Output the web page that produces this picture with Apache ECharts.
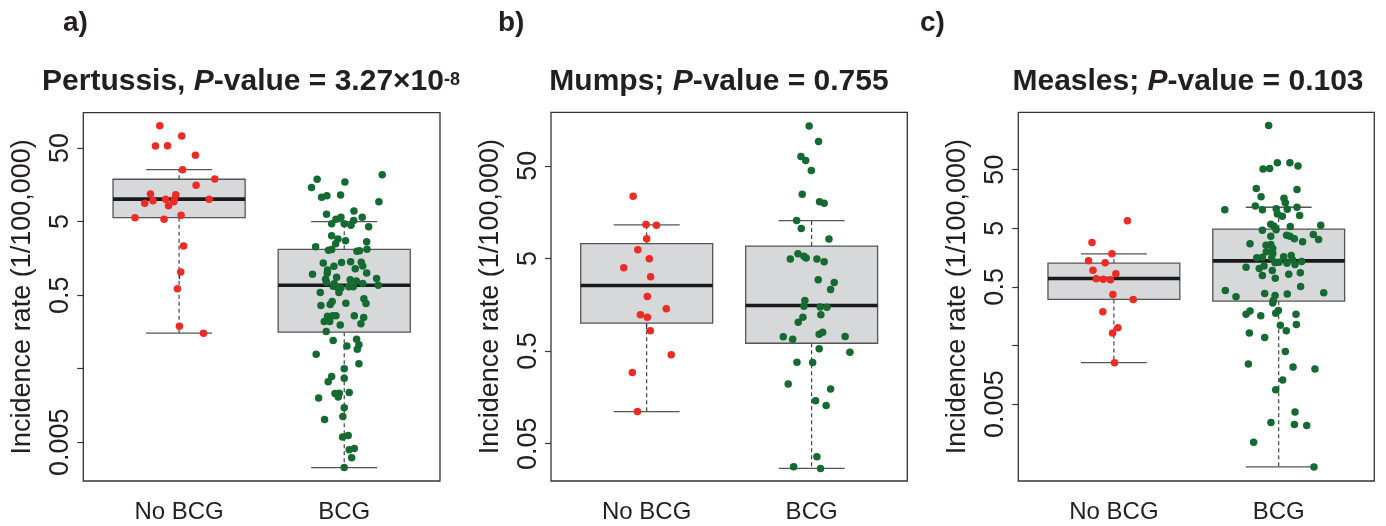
<!DOCTYPE html>
<html><head><meta charset="utf-8">
<script src="https://cdn.jsdelivr.net/npm/echarts@6/dist/echarts.min.js"></script>
<style>html,body{margin:0;padding:0;background:#fff}#c{width:1386px;height:526px}</style>
</head><body><div id="c"></div>
<script>
// ---------- data ----------
const categories = ['No BCG', 'BCG'];
const yTicks = [50, 5, 0.5, 0.05, 0.005];
const yLabelsA = [50, 5, 0.5, 0.005];
const yLabelsB = [50, 5, 0.5, 0.05];
const yLabelsC = [50, 5, 0.5, 0.005];

// box stats: [lower whisker, Q1, median, Q3, upper whisker]
const pertussisBoxNoBCG = [0.152, 5.65, 10.1, 18.8, 25.4];
const pertussisBoxBCG = [0.00226, 0.157, 0.682, 2.10, 4.99];
const mumpsBoxNoBCG = [0.111, 1.00, 2.55, 7.22, 11.5];
const mumpsBoxBCG = [0.0270, 0.607, 1.55, 6.79, 12.8];
const measlesBoxNoBCG = [0.0255, 0.305, 0.695, 1.27, 1.83];
const measlesBoxBCG = [0.000424, 0.285, 1.39, 4.84, 11.4];

// individual incidence rates (1/100,000) and horizontal jitter
const pertussisNoBCG = [100, 72.8, 53.2, 53.7, 39.8, 25.4, 19.0, 15.6, 11.9, 11.6, 8.87, 9.6, 10.1, 10.1, 9.3, 8.2, 10.1, 5.65, 5.4, 6.1, 2.33, 1.03, 0.61, 0.189, 0.152];
const pertussisNoBCGJitter = [-0.117, 0.016, -0.143, -0.070, 0.099, 0.021, 0.216, 0.103, -0.173, -0.020, -0.208, -0.158, -0.081, -0.028, -0.032, -0.064, 0.182, -0.267, -0.091, 0.012, 0.027, 0.010, -0.010, 0.002, 0.148];
const pertussisBCG = [21.6, 18.8, 14.5, 17.3, 10.7, 11.2, 11.5, 9.27, 6.98, 6.31, 5.74, 5.40, 5.74, 5.16, 4.66, 4.66, 4.47, 4.24, 3.20, 2.91, 2.74, 2.67, 2.49, 2.27, 2.04, 2.08, 1.98, 2.00, 2.11, 1.37, 1.39, 1.42, 1.40, 1.24, 1.25, 1.14, 1.10, 0.964, 0.995, 1.00, 0.879, 0.824, 0.841, 0.807, 0.782, 0.751, 0.713, 0.719, 0.684, 0.662, 0.628, 0.649, 0.649, 0.649, 0.542, 0.542, 0.446, 0.384, 0.409, 0.389, 0.361, 0.372, 0.259, 0.262, 0.262, 0.262, 0.248, 0.219, 0.219, 0.196, 0.204, 0.160, 0.121, 0.126, 0.106, 0.102, 0.0923, 0.0789, 0.0583, 0.0499, 0.0392, 0.0372, 0.0332, 0.0230, 0.0233, 0.0238, 0.0206, 0.0200, 0.0147, 0.0112, 0.0102, 0.00589, 0.00618, 0.00395, 0.00412, 0.00308, 0.00227];
const pertussisBCGJitter = [0.230, -0.164, -0.198, 0.004, -0.137, -0.105, -0.022, 0.210, 0.059, -0.107, 0.109, -0.050, -0.020, 0.057, -0.076, 0.0, 0.041, 0.148, -0.076, -0.038, 0.008, 0.136, -0.052, -0.173, -0.095, -0.076, 0.077, 0.093, 0.138, -0.127, -0.016, 0.039, 0.103, -0.062, 0.112, 0.067, -0.101, -0.192, -0.103, 0.136, -0.046, -0.113, 0.196, 0.036, 0.073, -0.107, -0.061, 0.112, 0.206, -0.067, -0.020, 0.028, 0.055, -0.050, -0.145, -0.032, 0.119, 0.132, -0.073, 0.010, -0.141, -0.085, -0.101, -0.070, -0.050, 0.061, 0.118, -0.121, -0.088, -0.024, 0.101, -0.109, -0.067, 0.075, 0.089, 0.016, 0.079, -0.170, 0.089, 0.0, -0.076, 0.0, -0.097, -0.056, -0.030, 0.030, -0.036, -0.155, 0.0, -0.008, -0.119, -0.010, 0.024, 0.030, 0.061, 0.045, 0.0];

const mumpsNoBCG = [23.4, 11.6, 11.4, 8.17, 6.21, 4.97, 3.96, 3.17, 1.94, 1.43, 1.23, 1.16, 0.826, 0.455, 0.293, 0.111];
const mumpsNoBCGJitter = [-0.082, -0.004, 0.059, 0.0, -0.054, 0.016, -0.139, 0.024, 0.004, 0.119, -0.038, 0.004, 0.022, 0.149, -0.087, -0.056];
const mumpsBCG = [134.6, 91.4, 62.8, 56.9, 44.4, 24.6, 20.5, 19.7, 12.8, 10.5, 8.09, 4.91, 5.62, 5.26, 5.04, 4.91, 4.60, 2.94, 2.75, 2.31, 1.76, 1.52, 1.49, 1.48, 1.23, 1.16, 1.02, 0.760, 0.798, 0.711, 0.671, 0.718, 0.528, 0.485, 0.378, 0.376, 0.221, 0.195, 0.145, 0.129, 0.0361, 0.0282, 0.0270];
const mumpsBCGJitter = [-0.015, 0.042, -0.065, -0.036, -0.002, -0.057, 0.048, 0.076, -0.091, -0.063, 0.105, -0.129, -0.083, -0.047, -0.033, 0.032, 0.076, 0.040, 0.137, 0.115, -0.041, -0.047, 0.052, 0.093, 0.056, -0.053, -0.081, 0.046, 0.067, -0.172, -0.115, 0.203, 0.046, 0.232, -0.089, 0.006, -0.142, 0.115, 0.024, 0.088, 0.032, -0.109, 0.054];

const measlesNoBCG = [6.68, 2.85, 1.83, 1.39, 1.29, 0.963, 0.836, 0.687, 0.676, 0.660, 0.372, 0.305, 0.188, 0.100, 0.0813, 0.0255];
const measlesNoBCGJitter = [0.082, -0.133, -0.012, -0.154, -0.053, -0.127, 0.012, -0.107, -0.065, -0.021, -0.006, 0.117, -0.067, 0.024, -0.008, 0.004];
const measlesBCG = [284, 51.4, 52.0, 65.8, 65.8, 57.8, 23.7, 22.8, 17.3, 16.2, 13.6, 12.0, 10.3, 10.3, 10.7, 10.5, 11.4, 8.22, 8.79, 7.99, 5.85, 5.41, 4.62, 4.69, 5.34, 5.62, 3.66, 3.80, 3.66, 3.30, 3.91, 3.21, 2.93, 2.71, 2.57, 2.64, 2.25, 1.98, 1.85, 1.57, 1.60, 1.57, 1.63, 1.71, 1.43, 1.29, 1.32, 1.27, 1.20, 1.36, 1.08, 1.03, 1.14, 0.951, 0.782, 0.822, 0.869, 0.703, 0.508, 0.434, 0.339, 0.386, 0.357, 0.376, 0.397, 0.293, 0.264, 0.170, 0.193, 0.161, 0.178, 0.198, 0.170, 0.111, 0.114, 0.0893, 0.0813, 0.0687, 0.0396, 0.0241, 0.0214, 0.0198, 0.0129, 0.00883, 0.00366, 0.00242, 0.00224, 0.00215, 0.00112, 0.000424];
const measlesBCGJitter = [-0.061, -0.095, -0.055, -0.008, 0.068, 0.117, -0.136, 0.111, -0.107, 0.032, 0.040, -0.142, -0.327, -0.099, -0.015, 0.052, 0.111, 0.127, -0.008, 0.022, -0.048, -0.028, -0.099, -0.016, 0.070, 0.255, -0.048, 0.048, 0.068, 0.095, 0.210, 0.242, 0.145, -0.174, -0.077, -0.048, -0.036, -0.075, -0.036, -0.133, -0.099, -0.042, 0.030, 0.076, 0.085, -0.022, 0.002, 0.050, 0.099, 0.139, -0.198, -0.118, -0.089, -0.039, -0.099, 0.061, 0.131, -0.021, 0.133, -0.324, -0.259, -0.085, -0.022, 0.052, 0.273, -0.033, -0.036, -0.198, -0.174, -0.109, -0.018, -0.002, 0.105, 0.010, 0.107, 0.046, -0.178, -0.085, 0.040, -0.184, 0.087, 0.220, 0.024, -0.018, 0.099, -0.047, 0.095, 0.170, -0.152, 0.214];

// ---------- layout / style ----------
const FONT = '"Liberation Sans", Arial, Helvetica, sans-serif';
const TXT = '#231f20';
const RED = '#ee2a24';
const GREEN = '#146a30';

// title pieces: [text, italic?]
const panels = [
  { letter: 'a)', letterX: 63, titleX: 251,
    title: [['Pertussis, ', false], ['P', true], ['-value = 3.27×10', false]], sup: '-8',
    grid: { left: 83.3, top: 112.7, width: 356.7, height: 368.3 },
    yRange: [0.00149, 151], yLabels: yLabelsA,
    boxes: [pertussisBoxNoBCG, pertussisBoxBCG],
    pts: [[pertussisNoBCG, pertussisNoBCGJitter], [pertussisBCG, pertussisBCGJitter]] },
  { letter: 'b)', letterX: 498, titleX: 719,
    title: [['Mumps; ', false], ['P', true], ['-value = 0.755', false]], sup: '',
    grid: { left: 551, top: 112.3, width: 356.3, height: 368.7 },
    yRange: [0.01977, 188.8], yLabels: yLabelsB,
    boxes: [mumpsBoxNoBCG, mumpsBoxBCG],
    pts: [[mumpsNoBCG, mumpsNoBCGJitter], [mumpsBCG, mumpsBCGJitter]] },
  { letter: 'c)', letterX: 920, titleX: 1188,
    title: [['Measles; ', false], ['P', true], ['-value = 0.103', false]], sup: '',
    grid: { left: 1018.3, top: 112.3, width: 356, height: 368.7 },
    yRange: [0.000244, 475], yLabels: yLabelsC,
    boxes: [measlesBoxNoBCG, measlesBoxBCG],
    pts: [[measlesNoBCG, measlesNoBCGJitter], [measlesBCG, measlesBCGJitter]] }
];

const lg = Math.log10;
function fmtTick(v) { return String(Number(Math.pow(10, v).toPrecision(1))); }

const mctx = document.createElement('canvas').getContext('2d');
function textW(str, font) { mctx.font = font; return mctx.measureText(str).width; }
const TFONT = 'bold 30px ' + FONT;
const TIFONT = 'italic bold 30px ' + FONT;
const SFONT = 'bold 18px ' + FONT;

function renderBox(params, api) {
  const x = api.value(0);
  const lo = api.coord([x, api.value(1)]);
  const q1 = api.coord([x, api.value(2)]);
  const md = api.coord([x, api.value(3)]);
  const q3 = api.coord([x, api.value(4)]);
  const hi = api.coord([x, api.value(5)]);
  const bw = api.size([0.8, 0])[0];
  const cw = api.size([0.4, 0])[0];
  const cx = lo[0];
  const dash = { stroke: '#333', lineWidth: 1.1, lineDash: [4, 3] };
  const cap = { stroke: '#555', lineWidth: 1.3 };
  return { type: 'group', children: [
    { type: 'line', shape: { x1: cx, y1: q3[1], x2: cx, y2: hi[1] }, style: dash },
    { type: 'line', shape: { x1: cx, y1: q1[1], x2: cx, y2: lo[1] }, style: dash },
    { type: 'line', shape: { x1: cx - cw / 2, y1: hi[1], x2: cx + cw / 2, y2: hi[1] }, style: cap },
    { type: 'line', shape: { x1: cx - cw / 2, y1: lo[1], x2: cx + cw / 2, y2: lo[1] }, style: cap },
    { type: 'rect', shape: { x: cx - bw / 2, y: q3[1], width: bw, height: q1[1] - q3[1] },
      style: { fill: '#d7d8da', stroke: '#555', lineWidth: 1.3 } },
    { type: 'line', shape: { x1: cx - bw / 2, y1: md[1], x2: cx + bw / 2, y2: md[1] },
      style: { stroke: '#1a1a1a', lineWidth: 3.6 } }
  ] };
}

const option = { animation: false, backgroundColor: '#fff',
  grid: [], xAxis: [], yAxis: [], series: [], graphic: [] };

panels.forEach((p, i) => {
  option.grid.push(Object.assign({ show: true, borderColor: '#333', borderWidth: 1.3,
    backgroundColor: 'transparent' }, p.grid));
  option.xAxis.push({ type: 'value', gridIndex: i, min: 0.42, max: 2.58,
    axisLine: { show: false }, splitLine: { show: false },
    axisTick: { show: true, length: 6, customValues: [1, 2], lineStyle: { color: '#333', width: 1.2 } },
    axisLabel: { customValues: [1, 2], formatter: v => categories[Math.round(v) - 1],
      fontSize: 24, fontFamily: FONT, color: TXT, margin: 19 } });
  option.yAxis.push({ type: 'value', gridIndex: i, min: lg(p.yRange[0]), max: lg(p.yRange[1]),
    axisLine: { show: false }, splitLine: { show: false },
    axisTick: { show: true, length: 6, customValues: yTicks.map(lg), lineStyle: { color: '#333', width: 1.2 } },
    axisLabel: { customValues: p.yLabels.map(lg), formatter: fmtTick, rotate: 90,
      fontSize: 27, fontFamily: FONT, color: TXT, margin: 9 },
    name: 'Incidence rate (1/100,000)', nameLocation: 'middle', nameRotate: 90, nameGap: 47,
    nameTextStyle: { fontSize: 27, fontFamily: FONT, color: TXT } });
  option.series.push({ type: 'custom', xAxisIndex: i, yAxisIndex: i, z: 2,
    renderItem: renderBox, encode: { x: 0, y: [1, 2, 3, 4, 5] },
    data: p.boxes.map((b, k) => [k + 1].concat(b.map(lg))) });
  p.pts.forEach((pair, k) => {
    option.series.push({ type: 'scatter', xAxisIndex: i, yAxisIndex: i, z: 3,
      symbol: 'circle', symbolSize: 7.5, itemStyle: { color: k === 0 ? RED : GREEN, opacity: 1 },
      data: pair[0].map((v, j) => [k + 1 + pair[1][j], lg(v)]) });
  });
  option.graphic.push({ type: 'text', x: p.letterX, y: 23.5, silent: true,
    style: { text: p.letter, fill: TXT, font: 'bold 28px ' + FONT, align: 'left', verticalAlign: 'middle' } });
  // title pieces laid out left to right, centred as a whole on titleX
  const widths = p.title.map(t => textW(t[0], t[1] ? TIFONT : TFONT));
  const supW = p.sup ? textW(p.sup, SFONT) : 0;
  const total = widths.reduce((a, b) => a + b, 0) + supW;
  let cx = p.titleX - total / 2;
  p.title.forEach((t, k) => {
    option.graphic.push({ type: 'text', x: cx, y: 81.7, silent: true,
      style: { text: t[0], fill: TXT, font: t[1] ? TIFONT : TFONT, align: 'left', verticalAlign: 'middle' } });
    cx += widths[k];
  });
  if (p.sup) {
    option.graphic.push({ type: 'text', x: cx, y: 80.5, silent: true,
      style: { text: p.sup, fill: TXT, font: SFONT, align: 'left', verticalAlign: 'middle' } });
  }
});

const chart = echarts.init(document.getElementById('c'), null, { renderer: 'canvas' });
chart.setOption(option);
</script>
</body></html>
